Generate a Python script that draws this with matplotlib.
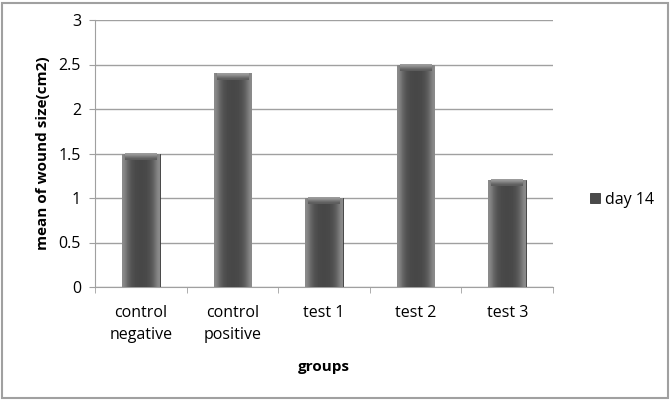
#!/usr/bin/env python3
# -*- coding: utf-8 -*-

import numpy as np
from matplotlib import pyplot as plt
from matplotlib.patches import Rectangle

groups = ["control\nnegative", "control\npositive", "test 1", "test 2", "test 3"]
day14 = [1.5, 2.4, 1.0, 2.5, 1.2]
yticks = [0, 0.5, 1, 1.5, 2, 2.5, 3]
yticklabels = ["0", "0.5", "1", "1.5", "2", "2.5", "3"]

plt.rcParams['font.family'] = ['Open Sans', 'DejaVu Sans']

fig = plt.figure(figsize=(6.71, 4.0), dpi=100)
ax = fig.add_axes([95 / 671, 113 / 400, 458 / 671, 267 / 400])

x = np.arange(len(groups))
bars = ax.bar(x, day14, width=0.41, color="#4a4a4a", edgecolor="#3a3a3a",
              linewidth=0.6, label="day 14", zorder=3)

# cylinder-like shading on each bar
shade = np.array([0.55, 0.40, 0.32, 0.29, 0.28, 0.28, 0.29, 0.32, 0.40, 0.55])
grad = np.tile(shade, (2, 1))
for b in bars:
    x0, w, h = b.get_x(), b.get_width(), b.get_height()
    im = ax.imshow(grad, cmap="gray", vmin=0, vmax=1, aspect="auto",
                   extent=(x0, x0 + w, 0, h), interpolation="bicubic", zorder=3)
    im.set_clip_path(b)
    ax.imshow(np.array([[0.62], [0.35]]), cmap="gray", vmin=0, vmax=1, aspect="auto",
              extent=(x0 + w * 0.08, x0 + w * 0.92, h - 0.07, h),
              interpolation="bicubic", zorder=4)

ax.set_xlim(-0.5, len(groups) - 0.5)
ax.set_ylim(0, 3)
ax.set_yticks(yticks)
ax.set_yticklabels(yticklabels)
ax.set_xticks(x)
ax.set_xticklabels(groups, linespacing=1.5)
ax.set_xticks(np.arange(len(groups) + 1) - 0.5, minor=True)
ax.tick_params(axis="x", which="major", length=0, pad=13, labelsize=11.5)
ax.tick_params(axis="x", which="minor", length=4, color="#a0a0a0")
ax.tick_params(axis="y", length=4, color="#a0a0a0", labelsize=11.5, pad=6)

ax.yaxis.grid(True, color="#a0a0a0", linewidth=1, zorder=0)
for side in ["top", "right"]:
    ax.spines[side].set_visible(False)
ax.spines["left"].set_color("#a0a0a0")
ax.spines["bottom"].set_color("#a0a0a0")

ax.set_ylabel("mean of wound size(cm2)", fontweight="bold", fontsize=11, labelpad=6)
ax.set_xlabel("groups", fontweight="bold", fontsize=11, labelpad=12)

leg = ax.legend(loc="center left", bbox_to_anchor=(1.05, 0.326), frameon=False,
                fontsize=11.5, handlelength=0.6, handleheight=0.6, handletextpad=0.3)

fig.patches.append(Rectangle((2 / 671, 2 / 400), 666 / 671, 395 / 400,
                             transform=fig.transFigure, fill=False,
                             edgecolor="#a0a0a0", linewidth=1.5))

fig.savefig("out.png", dpi=100)
